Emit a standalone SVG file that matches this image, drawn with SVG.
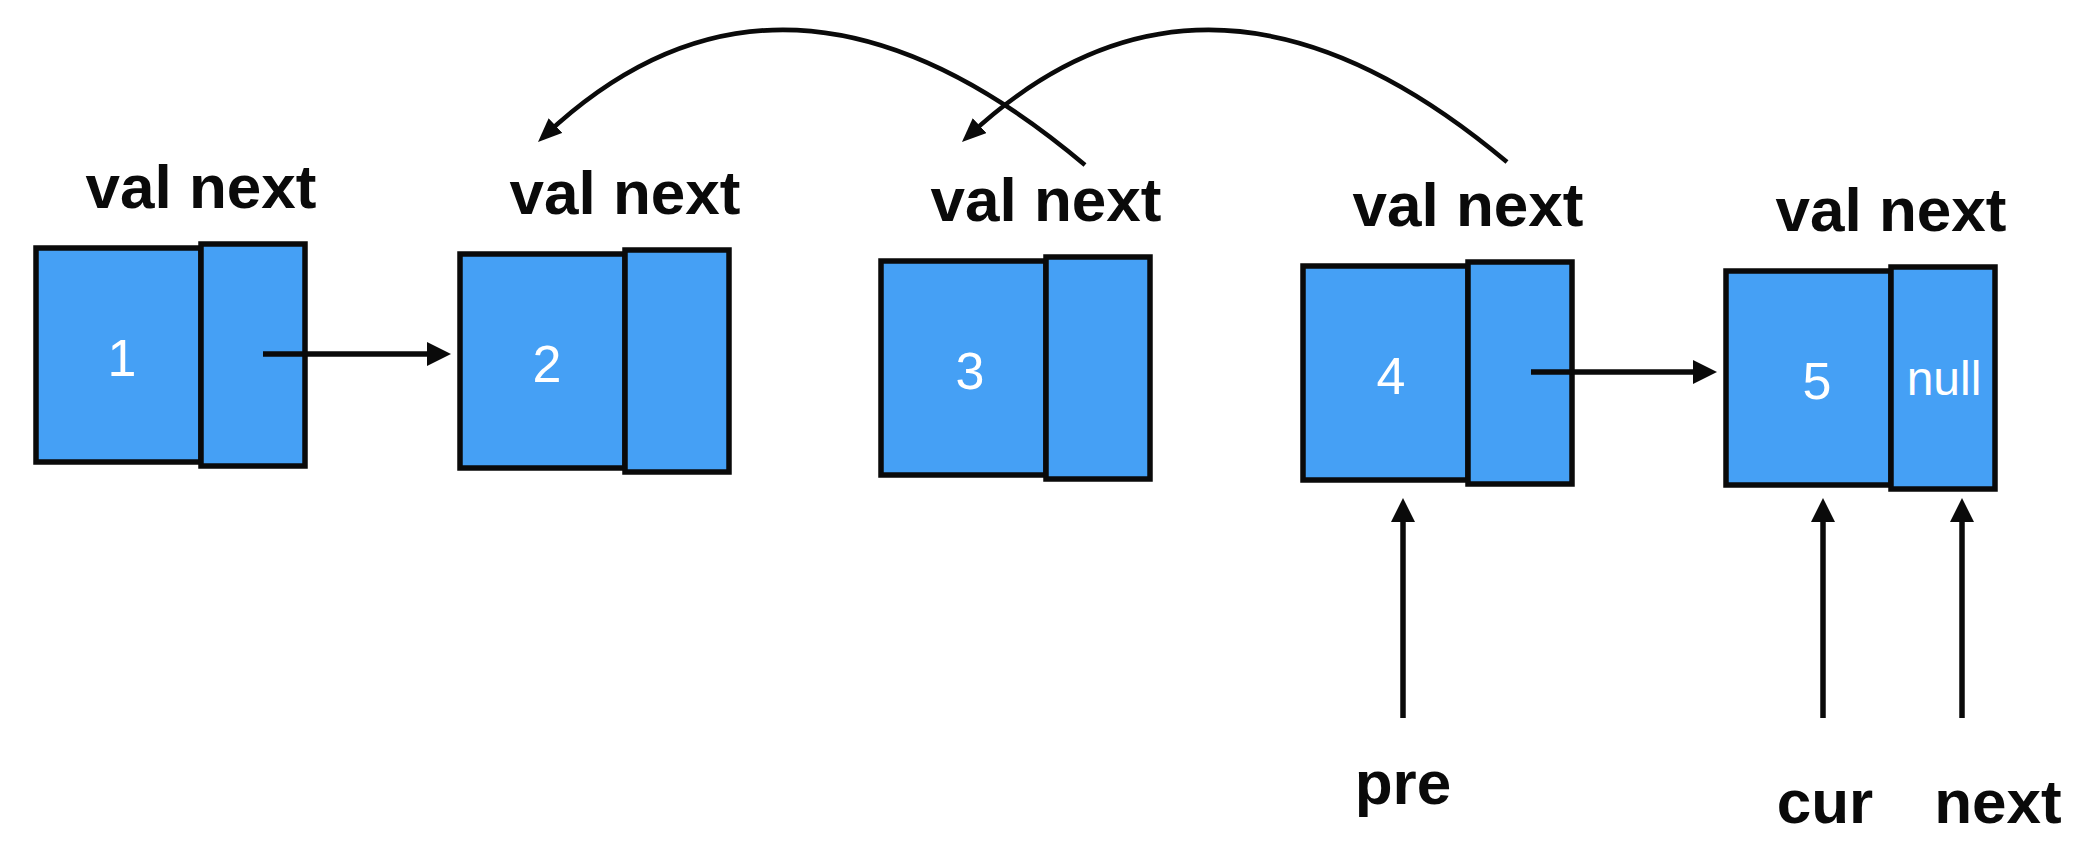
<svg xmlns="http://www.w3.org/2000/svg" width="2092" height="854" viewBox="0 0 2092 854">
<defs>
<style>
.box{fill:#45a0f5;stroke:#0a0a0a;stroke-width:5.5}
.lbl{font-family:"Liberation Sans",Arial,sans-serif;font-weight:bold;font-size:62px;fill:#0a0a0a;text-anchor:middle}
.val{font-family:"Liberation Sans",Arial,sans-serif;font-size:52px;fill:#ffffff;text-anchor:middle}
.nul{font-family:"Liberation Sans",Arial,sans-serif;font-size:48px;fill:#ffffff;text-anchor:middle}
.ln{fill:none;stroke:#0a0a0a;stroke-width:5.5}
.arc{fill:none;stroke:#0a0a0a;stroke-width:4.5}
</style>
<marker id="ah" markerUnits="userSpaceOnUse" markerWidth="26" markerHeight="26" refX="14" refY="12" orient="auto">
<path d="M0,0 L24,12 L0,24 z" fill="#0a0a0a"/>
</marker>
<marker id="ah2" markerUnits="userSpaceOnUse" markerWidth="26" markerHeight="24" refX="14" refY="10" orient="auto">
<path d="M0,0 L24,10 L0,20 z" fill="#0a0a0a"/>
</marker>
</defs>
<rect width="2092" height="854" fill="#ffffff"/>
<g id="node1" transform="translate(36,248)">
<text class="lbl" x="165" y="-40">val next</text>
<rect class="box" x="0" y="0" width="165" height="214"/>
<rect class="box" x="165" y="-4" width="104" height="222"/>
<text class="val" x="86" y="128">1</text>
</g>
<g id="node2" transform="translate(460,254)">
<text class="lbl" x="165" y="-40">val next</text>
<rect class="box" x="0" y="0" width="165" height="214"/>
<rect class="box" x="165" y="-4" width="104" height="222"/>
<text class="val" x="87" y="128">2</text>
</g>
<g id="node3" transform="translate(881,261)">
<text class="lbl" x="165" y="-40">val next</text>
<rect class="box" x="0" y="0" width="165" height="214"/>
<rect class="box" x="165" y="-4" width="104" height="222"/>
<text class="val" x="89" y="128">3</text>
</g>
<g id="node4" transform="translate(1303,266)">
<text class="lbl" x="165" y="-40">val next</text>
<rect class="box" x="0" y="0" width="165" height="214"/>
<rect class="box" x="165" y="-4" width="104" height="222"/>
<text class="val" x="88" y="128">4</text>
</g>
<g id="node5" transform="translate(1726,271)">
<text class="lbl" x="165" y="-40">val next</text>
<rect class="box" x="0" y="0" width="165" height="214"/>
<rect class="box" x="165" y="-4" width="104" height="222"/>
<text class="val" x="91" y="128">5</text>
<text class="nul" x="218" y="124">null</text>
</g>
<g id="pointers">
<text class="lbl" x="1403" y="804">pre</text>
<text class="lbl" x="1825" y="823">cur</text>
<text class="lbl" x="1998" y="823">next</text>
</g>
<g id="connectors">
<path class="ln" d="M263,354 L441,354" marker-end="url(#ah)"/>
<path class="ln" d="M1531,372 L1707,372" marker-end="url(#ah)"/>
<path class="arc" d="M1085,165 Q784,-89.5 545.3,135.2" marker-end="url(#ah2)"/>
<path class="arc" d="M1507,162 Q1209.5,-88 969.3,135.2" marker-end="url(#ah2)"/>
<path class="ln" d="M1403,718 L1403,508" marker-end="url(#ah)"/>
<path class="ln" d="M1823,718 L1823,508" marker-end="url(#ah)"/>
<path class="ln" d="M1962,718 L1962,508" marker-end="url(#ah)"/>
</g>
</svg>
